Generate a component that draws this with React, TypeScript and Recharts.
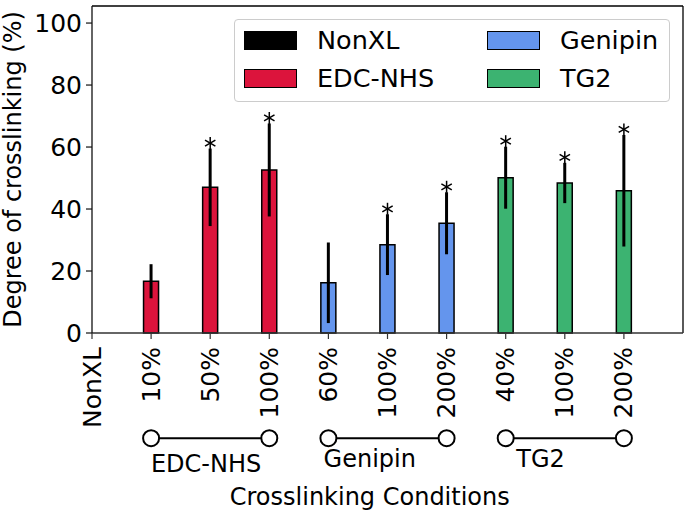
import React from 'react';
import {
  ComposedChart,
  Bar,
  Cell,
  ErrorBar,
  XAxis,
  YAxis,
  Scatter,
  ReferenceDot,
  ReferenceLine,
  Legend,
} from 'recharts';

// ---------- data ----------
const categories = ['NonXL', '10%', '50%', '100%', '60%', '100%', '200%', '40%', '100%', '200%'];
const groupOf = ['NonXL', 'EDC-NHS', 'EDC-NHS', 'EDC-NHS', 'Genipin', 'Genipin', 'Genipin', 'TG2', 'TG2', 'TG2'];
const crosslinking = [0, 16.7, 47.0, 52.6, 16.2, 28.5, 35.4, 50.1, 48.4, 45.9];
const errorHalf = [11.8, 5.5, 12.5, 15.0, 13.0, 9.8, 10.0, 10.0, 6.5, 18.0];
const significant = [false, false, true, true, false, true, true, true, true, true];
const legendNames = ['NonXL', 'EDC-NHS', 'Genipin', 'TG2'];
const yTicks = [0, 20, 40, 60, 80, 100];
const groupSpans = [
  { name: 'EDC-NHS', from: 1, to: 3, labelX: 1.93, labelY: -45.0 },
  { name: 'Genipin', from: 4, to: 6, labelX: 4.7, labelY: -43.1 },
  { name: 'TG2', from: 7, to: 9, labelX: 7.59, labelY: -43.1 },
];
const xTitle = { text: 'Crosslinking Conditions', x: 4.7, y: -55.5 };
const yTitle = 'Degree of crosslinking (%)';

const groupColors: Record<string, string> = {
  NonXL: '#000000',
  'EDC-NHS': '#DC143C',
  Genipin: '#6495ED',
  TG2: '#3CB371',
};

// table built from the arrays
const rows = categories.map((c, i) => ({
  x: i,
  label: c,
  value: crosslinking[i],
  // the NonXL bar sits at 0, its lower whisker is hidden below the axis
  err: i === 0 ? [0, errorHalf[i]] : [errorHalf[i], errorHalf[i]],
}));
const starRows = categories
  .map((c, i) => ({ x: i, top: crosslinking[i] + errorHalf[i], sig: significant[i] }))
  .filter((r) => r.sig);

const FONT = 'DejaVu Sans';
const GROUP_Y = -33.95;

const XTick = (props: any) => {
  const { x, y, payload } = props;
  return (
    <text
      transform={`translate(${x},${y + 6}) rotate(-90)`}
      textAnchor="end"
      dominantBaseline="central"
      fontSize={25}
      fontFamily={FONT}
      fill="#000"
    >
      {categories[payload.value]}
    </text>
  );
};

const Asterisk = (props: any) => {
  const { cx, cy } = props;
  if (cx == null || cy == null) return null;
  const c = cy - 5.5;
  const r = 6;
  const dx = r * Math.cos(Math.PI / 6);
  const dy = r * Math.sin(Math.PI / 6);
  return (
    <g stroke="#000" strokeWidth={1.5}>
      <line x1={cx} y1={c - r} x2={cx} y2={c + r} />
      <line x1={cx - dx} y1={c - dy} x2={cx + dx} y2={c + dy} />
      <line x1={cx - dx} y1={c + dy} x2={cx + dx} y2={c - dy} />
    </g>
  );
};

const textShape = (text: string) => (props: any) => (
  <text x={props.cx} y={props.cy} textAnchor="middle" fontSize={24} fontFamily={FONT} fill="#000">
    {text}
  </text>
);

const YLabel = () => (
  <text
    transform="translate(21,169.5) rotate(-90)"
    textAnchor="middle"
    fontSize={24}
    fontFamily={FONT}
    fill="#000"
  >
    {yTitle}
  </text>
);

const LegendBox = () => (
  <div
    style={{
      position: 'relative',
      width: 436,
      height: 83,
      border: '1px solid #cccccc',
      borderRadius: 4,
      background: 'rgba(255,255,255,0.8)',
      boxSizing: 'border-box',
      fontFamily: FONT,
      fontSize: 25.5,
      color: '#000',
    }}
  >
    {legendNames.map((name, i) => {
      const col = Math.floor(i / 2);
      const row = i % 2;
      return (
        <div
          key={name}
          style={{
            position: 'absolute',
            left: 9 + col * 243,
            top: 11 + row * 38,
            height: 19,
            display: 'flex',
            alignItems: 'center',
            whiteSpace: 'nowrap',
          }}
        >
          <div
            style={{
              width: 53,
              height: 19,
              background: groupColors[name],
              border: '1px solid #000',
              boxSizing: 'border-box',
            }}
          />
          <span style={{ marginLeft: 20, lineHeight: '19px' }}>{name}</span>
        </div>
      );
    })}
  </div>
);

export default function App() {
  return (
    <div style={{ position: 'absolute', left: 0, top: 0, background: '#fff' }}>
      <ComposedChart
        width={684}
        height={513}
        data={rows}
        margin={{ top: 6, right: 1, bottom: 0, left: 0 }}
      >
        <XAxis
          dataKey="x"
          type="number"
          domain={[0, 10]}
          ticks={[0, 1, 2, 3, 4, 5, 6, 7, 8, 9]}
          interval={0}
          height={180}
          tick={<XTick />}
          tickSize={6}
          axisLine={{ stroke: '#333', strokeWidth: 1.5 }}
          tickLine={{ stroke: '#333', strokeWidth: 1.2 }}
          allowDecimals={false}
        />
        <YAxis
          type="number"
          domain={[0, 105.5]}
          ticks={yTicks}
          width={92}
          tickSize={6}
          tickMargin={4}
          tick={{ fontSize: 25, fontFamily: FONT, fill: '#000' }}
          axisLine={{ stroke: '#111', strokeWidth: 1.3 }}
          tickLine={{ stroke: '#111', strokeWidth: 1.2 }}
          label={{ content: <YLabel /> }}
        />
        <ReferenceLine y={105.5} stroke="#000" strokeWidth={1.3} ifOverflow="visible" />
        <ReferenceLine x={10} stroke="#000" strokeWidth={1.3} ifOverflow="visible" />
        <Bar dataKey="value" barSize={15} stroke="#000" strokeWidth={1.5} isAnimationActive={false}>
          {rows.map((r, i) => (
            <Cell key={i} fill={groupColors[groupOf[i]]} />
          ))}
          <ErrorBar dataKey="err" direction="y" width={0} stroke="#000" strokeWidth={3} />
        </Bar>
        <Scatter data={starRows} dataKey="top" shape={Asterisk} isAnimationActive={false} />
        {groupSpans.map((g) => (
          <ReferenceLine
            key={`l-${g.name}`}
            segment={[
              { x: g.from, y: GROUP_Y },
              { x: g.to, y: GROUP_Y },
            ]}
            stroke="#000"
            strokeWidth={2}
            ifOverflow="visible"
          />
        ))}
        {groupSpans.map((g) =>
          [g.from, g.to].map((px) => (
            <ReferenceDot
              key={`d-${g.name}-${px}`}
              x={px}
              y={GROUP_Y}
              r={8}
              fill="#fff"
              stroke="#000"
              strokeWidth={2}
              ifOverflow="visible"
            />
          ))
        )}
        {groupSpans.map((g) => (
          <ReferenceDot
            key={`t-${g.name}`}
            x={g.labelX}
            y={g.labelY}
            r={0}
            ifOverflow="visible"
            shape={textShape(g.name)}
          />
        ))}
        <ReferenceDot
          x={xTitle.x}
          y={xTitle.y}
          r={0}
          ifOverflow="visible"
          shape={textShape(xTitle.text)}
        />
        <Legend
          layout="vertical"
          align="center"
          verticalAlign="middle"
          content={() => <LegendBox />}
          wrapperStyle={{ left: 234, top: 19, width: 436, height: 83 }}
        />
      </ComposedChart>
    </div>
  );
}
